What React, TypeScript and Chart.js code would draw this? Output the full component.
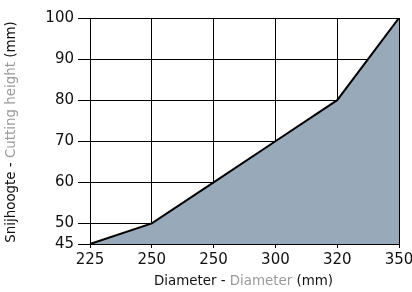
import React, { useEffect, useRef } from "react";
import { Chart, registerables } from "chart.js";

Chart.register(...registerables);

const diameters = ["225", "250", "250", "300", "320", "350"];
const cuttingHeights = [45, 50, 60, 70, 80, 100];
const yTicks = [45, 50, 60, 70, 80, 90, 100];

const FONT = "'DejaVu Sans', sans-serif";

const titlesPlugin = {
  id: "multiTitles",
  afterDraw(chart: any) {
    const { ctx, chartArea } = chart;
    const drawParts = (parts: [string, string][], x: number, y: number, rotate: boolean) => {
      ctx.save();
      ctx.font = `13.4px ${FONT}`;
      ctx.textBaseline = "middle";
      const total = parts.reduce((s, p) => s + ctx.measureText(p[0]).width, 0);
      ctx.translate(x, y);
      if (rotate) ctx.rotate(-Math.PI / 2);
      let cx = -total / 2;
      for (const [t, c] of parts) {
        ctx.fillStyle = c;
        ctx.textAlign = "left";
        ctx.fillText(t, cx, 0);
        cx += ctx.measureText(t).width;
      }
      ctx.restore();
    };
    drawParts(
      [["Diameter - ", "#111"], ["Diameter", "#9a9a9a"], [" (mm)", "#111"]],
      (chartArea.left + chartArea.right) / 2 - 1,
      282,
      false
    );
    drawParts(
      [["Snijhoogte - ", "#111"], ["Cutting height", "#9a9a9a"], [" (mm)", "#111"]],
      12,
      (chartArea.top + chartArea.bottom) / 2 + 1,
      true
    );
  },
};

export default function App() {
  const ref = useRef<HTMLCanvasElement>(null);
  useEffect(() => {
    const chart = new Chart(ref.current!, {
      type: "line",
      data: {
        labels: diameters,
        datasets: [
          {
            data: cuttingHeights,
            borderColor: "#000",
            borderWidth: 2,
            backgroundColor: "#98a9b9",
            fill: "start",
            pointRadius: 0,
            tension: 0,
          },
        ],
      },
      options: {
        animation: false,
        responsive: false,
        maintainAspectRatio: false,
        layout: { padding: { top: 18, right: 0, left: 0, bottom: 0 } },
        plugins: { legend: { display: false }, tooltip: { enabled: false } },
        scales: {
          x: {
            type: "category",
            offset: false,
            afterFit: (s: any) => {
              s.height = 48;
              s.paddingRight = 13;
            },
            grid: { color: "#000", lineWidth: 1, tickLength: 4 },
            border: { color: "#000", width: 1 },
            ticks: { color: "#111", font: { family: FONT, size: 15 }, padding: 3, maxRotation: 0, autoSkip: false },
          },
          y: {
            type: "linear",
            min: 45,
            max: 100,
            afterFit: (s: any) => {
              s.width = 90;
            },
            afterBuildTicks: (s: any) => {
              s.ticks = yTicks.map((v) => ({ value: v }));
            },
            grid: { color: "#000", lineWidth: 1, tickLength: 12 },
            border: { color: "#000", width: 1 },
            ticks: { color: "#111", font: { family: FONT, size: 15 }, padding: 4 },
          },
        },
      },
      plugins: [titlesPlugin],
    });
    return () => chart.destroy();
  }, []);
  return (
    <div style={{ position: "fixed", left: 0, top: 0, width: 412, height: 292, background: "#fff" }}>
      <canvas ref={ref} width={412} height={292} style={{ width: 412, height: 292 }} />
    </div>
  );
}
